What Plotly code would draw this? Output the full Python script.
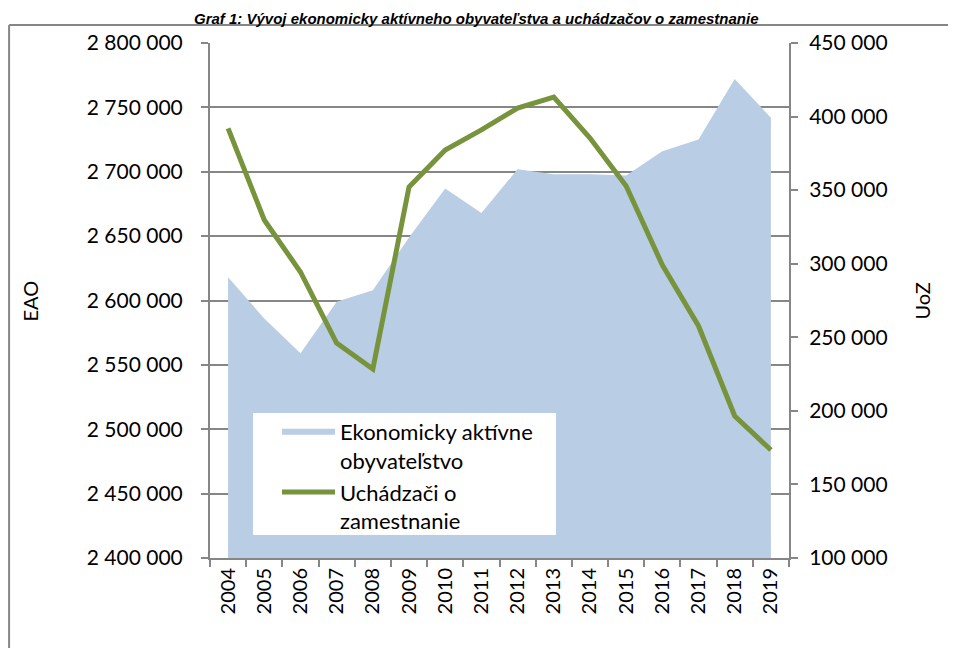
import plotly.graph_objs as go

years = ['2004', '2005', '2006', '2007', '2008', '2009', '2010', '2011',
         '2012', '2013', '2014', '2015', '2016', '2017', '2018', '2019']

# ekonomicky aktivne obyvatelstvo (lava os)
eao = [2618000, 2586000, 2559000, 2599000, 2608000, 2649000, 2687000, 2668000,
       2702000, 2698000, 2698000, 2697000, 2716000, 2725000, 2772000, 2742000]

# uchadzaci o zamestnanie (prava os)
uoz = [392000, 329700, 294400, 246100, 228400, 352100, 377300, 390900,
       405800, 413300, 385400, 352800, 299100, 257700, 196500, 173400]

FONT = 'Lato'
GRAY = '#868686'

fig = go.Figure()
fig.add_trace(go.Scatter(x=years, y=eao, name='Ekonomicky aktívne<br>obyvateľstvo',
                         mode='none', fill='tozeroy', fillcolor='#B9CDE5'))
fig.add_trace(go.Scatter(x=years, y=uoz, name='Uchádzači o<br>zamestnanie',
                         mode='lines', line=dict(color='#77933C', width=5),
                         yaxis='y2'))

fig.update_layout(
    width=948, height=640,
    margin=dict(l=202, r=167, t=35, b=90),
    plot_bgcolor='white', paper_bgcolor='white',
    separators=', ',
    font=dict(family=FONT, size=20, color='black'),
    xaxis=dict(type='category', range=[-0.5, 15.5], tickson='boundaries',
               ticks='outside', ticklen=7, tickcolor=GRAY, tickwidth=2,
               showline=True, linecolor=GRAY, linewidth=2, tickangle=-90,
               showgrid=False, tickfont=dict(size=20)),
    yaxis=dict(range=[2400000, 2800000], dtick=50000, tickformat=',d',
               ticks='outside', ticklen=7, tickcolor=GRAY, tickwidth=2,
               showline=True, linecolor=GRAY, linewidth=2,
               showgrid=True, gridcolor=GRAY, gridwidth=2, zeroline=False,
               ticklabelstandoff=14, tickfont=dict(size=21)),
    yaxis2=dict(range=[100000, 450000], dtick=50000, tickformat=',d',
                overlaying='y', side='right',
                ticks='outside', ticklen=7, tickcolor=GRAY, tickwidth=2,
                showline=True, linecolor=GRAY, linewidth=2,
                showgrid=False, zeroline=False, ticklabelstandoff=7,
                tickfont=dict(size=21)),
    legend=dict(x=0.1157, y=0.2854, xanchor='left', yanchor='top',
                bgcolor='rgba(0,0,0,0)', borderwidth=0, valign='top',
                itemwidth=53, tracegroupgap=0,
                font=dict(family=FONT, size=22)),
    showlegend=True,
)

# biele pozadie legendy
fig.add_shape(type='rect', xref='paper', yref='paper', x0=0.0743, x1=0.5976,
              y0=0.0447, y1=0.2816, fillcolor='white', line=dict(width=0), layer='above')

# nadpis a nazvy osi
fig.add_annotation(text='<b><i>Graf 1: Vývoj ekonomicky aktívneho obyvateľstva a uchádzačov o zamestnanie</i></b>',
                   xref='paper', yref='paper', x=0.461, y=1.068, xanchor='center', yanchor='top',
                   showarrow=False, font=dict(family='Liberation Sans', size=15))
fig.add_annotation(text='EAO', xref='paper', yref='paper', x=-0.311, y=0.5, xanchor='center',
                   textangle=-90, showarrow=False, font=dict(size=20))
fig.add_annotation(text='UoZ', xref='paper', yref='paper', x=1.2297, y=0.5, xanchor='center',
                   textangle=-90, showarrow=False, font=dict(size=20))

# ramik okolo grafu
fig.add_shape(type='line', xref='paper', yref='paper', x0=-0.347, x1=-0.347, y0=1.035, y1=-0.3,
              line=dict(color=GRAY, width=2))
fig.add_shape(type='line', xref='paper', yref='paper', x0=-0.347, x1=1.4, y0=1.035, y1=1.035,
              line=dict(color=GRAY, width=2))

fig.write_html('out.html')
